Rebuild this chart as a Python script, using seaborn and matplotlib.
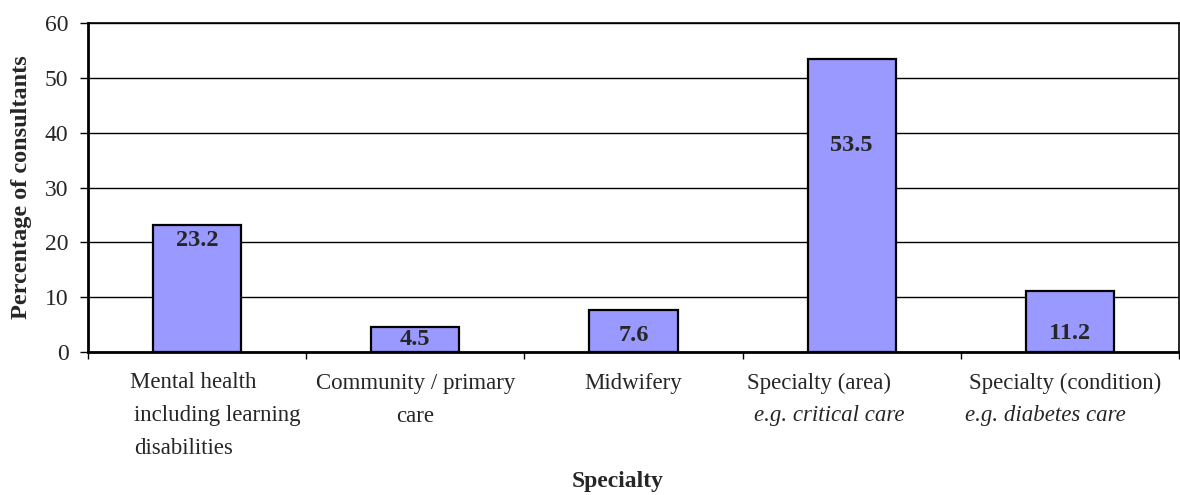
import matplotlib
matplotlib.use("Agg")
import matplotlib.pyplot as plt
import matplotlib.transforms as mtransforms
import numpy as np
import pandas as pd
import seaborn as sns

# Share of consultants by specialty
categories = [
    "Mental health",
    "Community / primary",
    "Midwifery",
    "Specialty (area)",
    "Specialty (condition)",
]
values = [23.2, 4.5, 7.6, 53.5, 11.2]

# Category labels: lines under each bar, and whether the line is italic
label_lines = [
    [("Mental health", False), ("including learning", False), ("disabilities", False)],
    [("Community / primary", False), ("care", False)],
    [("Midwifery", False)],
    [("Specialty (area)", False), ("e.g. critical care", True)],
    [("Specialty (condition)", False), ("e.g. diabetes care", True)],
]
# Left edge of each label line relative to the category centre (None = centred)
label_left = [
    [-0.307, -0.289, -0.289],
    [None, None],
    [None],
    [-0.482, -0.45],
    [-0.462, -0.48],
]

# Vertical placement of each value label (data units)
value_label_y = [20.4, 2.3, 3.1, 37.6, 3.4]

y_ticks = [0, 10, 20, 30, 40, 50, 60]

sns.set_style("white")
plt.rcParams["font.family"] = ["Liberation Serif", "DejaVu Serif"]

df = pd.DataFrame({"Specialty": categories, "Percent": values})

fig = plt.figure(figsize=(11.8, 4.95), dpi=100)
ax = fig.add_axes([88 / 1180, 1 - 352 / 495, (1179 - 88) / 1180, (352 - 23) / 495])

sns.barplot(
    data=df, x="Specialty", y="Percent", ax=ax,
    color="#9999FF", edgecolor="black", linewidth=1.6, width=0.405,
    saturation=1, zorder=3,
)
for p in ax.patches:
    p.set_facecolor("#9999FF")

ax.set_xlim(-0.5, len(categories) - 0.5)
ax.set_ylim(0, 60)
ax.set_yticks(y_ticks)
ax.set_yticklabels([str(t) for t in y_ticks], fontsize=17)
ax.yaxis.grid(True, color="black", linewidth=1.0, zorder=0)
ax.set_axisbelow(True)

# Category separators as x ticks, no text on them
ax.set_xticks(np.arange(len(categories) + 1) - 0.5)
ax.set_xticklabels([])
ax.tick_params(axis="x", which="major", direction="out", length=5, width=1, color="black", bottom=True)
ax.tick_params(axis="y", which="major", direction="out", length=6, width=1, color="black", left=True, pad=8)

for side in ["left", "bottom"]:
    ax.spines[side].set_linewidth(2.0)
    ax.spines[side].set_color("black")
for side in ["top", "right"]:
    ax.spines[side].set_visible(True)
    ax.spines[side].set_linewidth(1.2)
    ax.spines[side].set_color("black")

# Value labels
for i, (v, ly) in enumerate(zip(values, value_label_y)):
    ax.text(i, ly, f"{v:.1f}", ha="center", va="center",
            fontsize=17.5, fontweight="bold", zorder=5)

# Multi-line category labels under the axis
trans = mtransforms.blended_transform_factory(ax.transData, ax.transAxes)
for i, lines in enumerate(label_lines):
    for j, (txt, ital) in enumerate(lines):
        offset = mtransforms.ScaledTranslation(0, -(31 + 33 * j) / 100, fig.dpi_scale_trans)
        left = label_left[i][j]
        if left is None:
            x, ha = i, "center"
        else:
            x, ha = i + left, "left"
        ax.text(x, 0, txt, transform=trans + offset, ha=ha, va="center",
                fontsize=16.5, style="italic" if ital else "normal")

ax.set_xlabel("")
ax.set_ylabel("Percentage of consultants", fontsize=17.5, fontweight="bold", labelpad=9)
fig.text(618 / 1180, 1 - 482 / 495, "Specialty", ha="center", va="center",
         fontsize=17, fontweight="bold")

fig.savefig("out.png", dpi=100)
